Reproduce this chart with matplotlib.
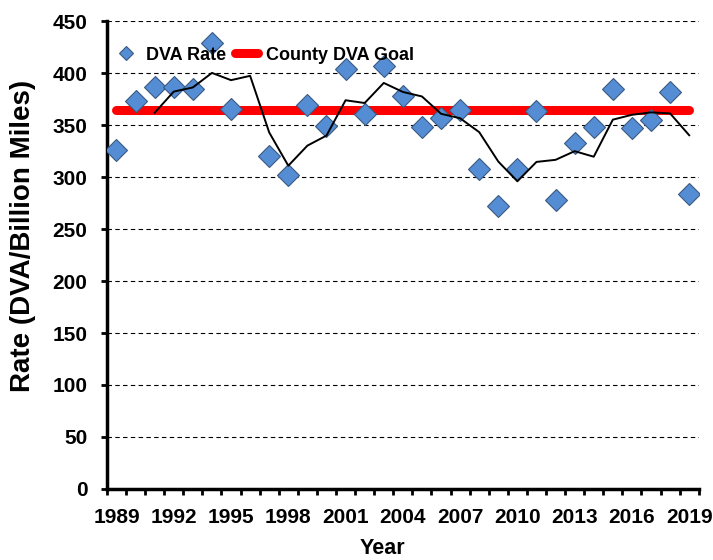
import matplotlib.pyplot as plt
import numpy as np
import pandas as pd

### Data ###
years = list(range(1989, 2020))
dva_rate = [326, 373, 387, 387, 385, 429, 366, np.nan, 320, 302,
            369, 349, 404, 361, 407, 378, 348, 357, 365, 308,
            272, 308, 364, 278, 333, 348, 385, 347, 355, 382, 284]
goal = 365
xticks = list(range(1989, 2020, 3))
yticks = list(range(0, 451, 50))

# 3-yr moving average trendline (like Excel's), skips missing years
trend = pd.Series(dva_rate).rolling(3, min_periods=1).mean()
trend[:2] = np.nan

plt.rcParams['font.family'] = ['Liberation Sans', 'DejaVu Sans']
plt.rcParams['font.weight'] = 'bold'

fig = plt.figure(figsize=(7.13, 5.6), dpi=100)
ax = fig.add_axes([0.150, 0.127, 0.830, 0.835])

ax.plot([years[0], years[-1]], [goal, goal], color='#FF0000', linewidth=6.5,
        solid_capstyle='round', zorder=2, label='County DVA Goal')
ax.plot(years, dva_rate, linestyle='none', marker='D', markersize=11.5,
        markerfacecolor='#548DD4', markeredgecolor='#3B5A82',
        markeredgewidth=0.8, zorder=3, label='DVA Rate')
ax.plot(years, trend, color='black', linewidth=1.4, zorder=4)

ax.set_xlim(1988.5, 2019.5)
ax.set_ylim(0, 450)
ax.set_yticks(yticks)
ax.set_xticks(xticks)
ax.set_xticks(np.arange(1988.5, 2020, 1), minor=True)
ax.tick_params(axis='x', which='major', length=0, pad=14, labelsize=15)
ax.tick_params(axis='x', which='minor', length=4, width=2, direction='out')
ax.tick_params(axis='y', length=4, width=2, labelsize=15, pad=10)

ax.grid(axis='y', linestyle=(0, (4, 3)), color='black', linewidth=0.8)
ax.set_axisbelow(True)

for s in ['top', 'right']:
    ax.spines[s].set_visible(False)
ax.spines['left'].set_linewidth(2.5)
ax.spines['bottom'].set_linewidth(2.5)

ax.set_ylabel('Rate (DVA/Billion Miles)', fontsize=20, fontweight='bold')
ax.yaxis.set_label_coords(-0.12, 0.54)
ax.set_xlabel('Year', fontsize=15.5, fontweight='bold')
ax.xaxis.set_label_coords(0.466, -0.105)

h, l = ax.get_legend_handles_labels()
leg = ax.legend([h[1], h[0]], [l[1], l[0]], loc='upper left', ncol=2,
                frameon=False, fontsize=13, bbox_to_anchor=(0.012, 0.946),
                borderaxespad=0, borderpad=0,
                markerscale=0.6, handlelength=1.3, columnspacing=0.5,
                handletextpad=0.45)
for t in leg.get_texts():
    t.set_fontweight('bold')

plt.savefig('out.png', dpi=100)
